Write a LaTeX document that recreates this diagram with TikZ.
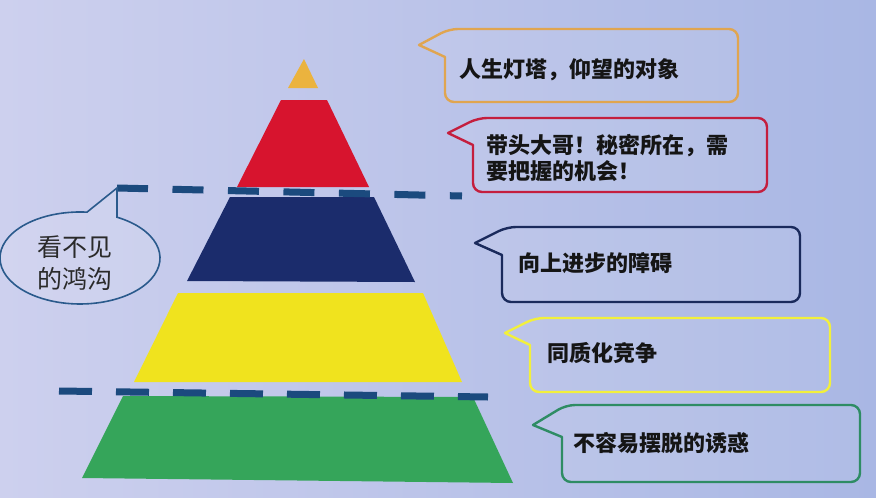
\documentclass[tikz,border=0pt]{standalone}
\usepackage{fontspec}
\newfontfamily\cjk{Noto Sans CJK SC}
\usetikzlibrary{positioning}

\definecolor{bgleft}{HTML}{CDD0EE}
\definecolor{bgright}{HTML}{A9B7E4}
\definecolor{toporange}{HTML}{EBB33E}
\definecolor{layerred}{HTML}{D7142E}
\definecolor{layernavy}{HTML}{1B2C6C}
\definecolor{layeryellow}{HTML}{F0E31E}
\definecolor{layergreen}{HTML}{35A55A}
\definecolor{dashblue}{HTML}{1B4A7E}
\definecolor{lineorange}{HTML}{E0A550}
\definecolor{linered}{HTML}{C41E3E}
\definecolor{linenavy}{HTML}{1A2A5C}
\definecolor{lineyellow}{HTML}{F2F03C}
\definecolor{linegreen}{HTML}{2E8C64}
\definecolor{bubbleline}{HTML}{2A5A8C}
\definecolor{notetext}{HTML}{151515}
\definecolor{bubbletext}{HTML}{2A2A2A}

\begin{document}
\begin{tikzpicture}[
    x=1pt, y=-1pt,
    note/.style={line width=2.4pt, line join=round,
                 fill=white, fill opacity=0.08},
    note text/.style={font=\cjk\bfseries\fontsize{22}{26}\selectfont,
                      text=notetext, anchor=west, align=left, inner sep=0pt},
    bubble text/.style={font=\cjk\fontsize{25}{32}\selectfont,
                        text=bubbletext, align=center, inner sep=0pt},
    gap line/.style={line width=7pt, draw=dashblue}
  ]
  % background
  \shade[left color=bgleft, right color=bgright] (0,0) rectangle (876,498);
  \useasboundingbox (0,0) rectangle (876,498);

  % pyramid layers
  \fill[toporange] (304,59) -- (318,88) -- (288,88) -- cycle;
  \fill[layerred] (281,100) -- (327,100) -- (369,187) -- (237,187) -- cycle;
  \fill[layernavy] (230,197) -- (374,197) -- (415,282) -- (187,281) -- cycle;
  \fill[layeryellow] (178,293) -- (423,293) -- (462,382) -- (134,382) -- cycle;
  \fill[layergreen] (123,396) -- (473,397) -- (513,483) -- (82,478) -- cycle;

  % dashed gap lines
  \draw[gap line, dash pattern=on 31pt off 24.5pt] (117,188) -- (462,196);
  \draw[gap line, dash pattern=on 33pt off 24pt] (59,391) -- (488,397);

  % bubble on the left
  \draw[line width=1.6pt, draw=bubbleline, fill=white, fill opacity=0.1]
    (117,217.2) arc[start angle=62.45, end angle=-275,
                    x radius=80pt, y radius=46pt]
    -- (117,188) -- cycle;
  \node[bubble text] (gap) at (75,263) {看不见\\的鸿沟};

  % callouts
  \draw[note, draw=lineorange] (445,57) [rounded corners=9pt] -- (445,102)
    -- (738,102) -- (738,29) -- (449,29) [sharp corners] -- (419,45) -- cycle;
  \node[note text] (lamp) at (459,70) {人生灯塔，仰望的对象};

  \draw[note, draw=linered] (473,145) [rounded corners=9pt] -- (473,192)
    -- (767,192) -- (767,118) -- (478,118) [sharp corners] -- (448,133) -- cycle;
  \node[note text] (elder) at (486,157.5) {带头大哥！秘密所在，需\\要把握的机会！};

  \draw[note, draw=linenavy] (502,255) [rounded corners=9pt] -- (502,302)
    -- (800,302) -- (800,227) -- (507,227) [sharp corners] -- (475,243) -- cycle;
  \node[note text] (block) at (518,263) {向上进步的障碍};

  \draw[note, draw=lineyellow] (530,345) [rounded corners=9pt] -- (530,392)
    -- (830,392) -- (830,318) -- (535,318) [sharp corners] -- (505,333) -- cycle;
  \node[note text] (rival) at (547,353) {同质化竞争};

  \draw[note, draw=linegreen] (562,437) [rounded corners=9pt] -- (562,482)
    -- (860,482) -- (860,405) -- (566,405) [sharp corners] -- (533,425) -- cycle;
  \node[note text] (lure) at (573,443) {不容易摆脱的诱惑};
\end{tikzpicture}
\end{document}
